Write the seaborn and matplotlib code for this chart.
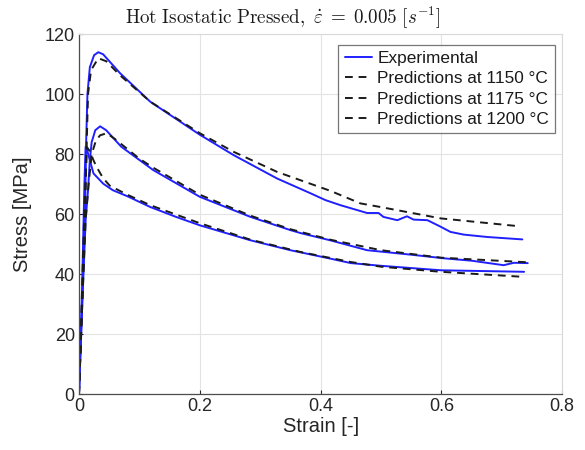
import numpy as np
import pandas as pd
import matplotlib
matplotlib.use("Agg")
import matplotlib.pyplot as plt
import seaborn as sns

# ---- data ----
exp_1150_strain = [0, 0.006, 0.010, 0.012, 0.014, 0.018, 0.025, 0.032, 0.040, 0.068, 0.118, 0.200,
                   0.256, 0.328, 0.383, 0.408, 0.433, 0.477, 0.496, 0.504, 0.527, 0.543, 0.554,
                   0.577, 0.599, 0.615, 0.637, 0.676, 0.734]
exp_1150_stress = [0, 35, 60, 85, 100, 109, 113, 114, 113.3, 107, 97.5, 86.5,
                   79.7, 71.9, 67.0, 64.7, 63.0, 60.4, 60.4, 59.1, 58.0, 59.3, 58.2,
                   58.0, 55.8, 54.1, 53.2, 52.4, 51.6]

exp_1175_strain = [0, 0.006, 0.011, 0.015, 0.018, 0.021, 0.027, 0.035, 0.045, 0.070, 0.123, 0.200,
                   0.284, 0.350, 0.367, 0.416, 0.477, 0.550, 0.604, 0.650, 0.703, 0.720, 0.743]
exp_1175_stress = [0, 33, 58, 68, 78, 84, 88, 89.3, 88, 82.5, 74.7, 65.8,
                   59.1, 54.7, 53.7, 51.3, 48.0, 46.5, 45.3, 44.5, 43.0, 43.8, 43.7]

exp_1200_strain = [0, 0.005, 0.009, 0.011, 0.014, 0.018, 0.024, 0.040, 0.056, 0.080, 0.118, 0.162,
                   0.200, 0.284, 0.350, 0.416, 0.450, 0.500, 0.600, 0.737]
exp_1200_stress = [0, 34, 70, 82.5, 81, 78, 73.6, 70.2, 68, 66, 62.4, 59,
                   56.3, 51.3, 48.0, 45.2, 43.7, 42.8, 41.3, 40.8]

pred_1150_strain = [0, 0.006, 0.010, 0.013, 0.015, 0.020, 0.032, 0.045, 0.068, 0.118, 0.200,
                    0.256, 0.328, 0.416, 0.466, 0.499, 0.599, 0.723]
pred_1150_stress = [0, 35, 60, 85, 100, 108, 112, 111, 106.3, 97.5, 87,
                    80.8, 74.1, 67.8, 63.6, 62.4, 58.6, 56.1]

pred_1175_strain = [0, 0.006, 0.011, 0.016, 0.021, 0.028, 0.035, 0.046, 0.060, 0.100, 0.123, 0.200,
                    0.284, 0.350, 0.416, 0.500, 0.600, 0.740]
pred_1175_stress = [0, 33, 58, 70, 80, 84.5, 86.3, 87, 85, 78.5, 75.5, 66.5,
                    59.5, 55.0, 51.5, 48.0, 45.5, 44.0]

pred_1200_strain = [0, 0.005, 0.009, 0.013, 0.018, 0.024, 0.029, 0.040, 0.051, 0.080, 0.118, 0.200,
                    0.284, 0.367, 0.449, 0.500, 0.599, 0.737]
pred_1200_stress = [0, 34, 62, 82.4, 81, 78, 75.8, 72, 69.5, 66.5, 63, 57,
                    51.5, 47.4, 44.1, 42.5, 40.8, 39.1]

x_ticks = [0, 0.2, 0.4, 0.6, 0.8]
x_tick_labels = ["0", "0.2", "0.4", "0.6", "0.8"]
y_ticks = [0, 20, 40, 60, 80, 100, 120]
x_label = "Strain [-]"
y_label = "Stress [MPa]"
title = r"$\mathrm{Hot\ Isostatic\ Pressed,}\ \dot{\varepsilon}\;=\;0.005\ [s^{-1}]$"

# ---- style ----
sns.set_theme(style="whitegrid")
plt.rcParams["font.family"] = ["Liberation Sans", "DejaVu Sans"]
plt.rcParams["mathtext.fontset"] = "cm"

fig = plt.figure(figsize=(5.85, 4.5), dpi=100)
ax = fig.add_axes([0.135, 0.124, 0.826, 0.800])

blue = "#2020ff"
for i, (s, v) in enumerate([(exp_1150_strain, exp_1150_stress),
                            (exp_1175_strain, exp_1175_stress),
                            (exp_1200_strain, exp_1200_stress)]):
    df = pd.DataFrame({"strain": s, "stress": v})
    sns.lineplot(data=df, x="strain", y="stress", ax=ax, color=blue, lw=1.4,
                 sort=False, estimator=None, label="Experimental" if i == 0 else None,
                 legend=False)

for T, s, v in [(1150, pred_1150_strain, pred_1150_stress),
                (1175, pred_1175_strain, pred_1175_stress),
                (1200, pred_1200_strain, pred_1200_stress)]:
    df = pd.DataFrame({"strain": s, "stress": v})
    sns.lineplot(data=df, x="strain", y="stress", ax=ax, color="#1a1a1a", lw=1.4,
                 sort=False, estimator=None, label=f"Predictions at {T} °C",
                 legend=False)
for ln in ax.lines[3:]:
    ln.set_linestyle((0, (4, 3)))

ax.set_xlim(0, 0.8)
ax.set_ylim(0, 120)
ax.set_xticks(x_ticks)
ax.set_xticklabels(x_tick_labels)
ax.set_yticks(y_ticks)
ax.tick_params(axis="both", direction="in", length=3, width=0.8, colors="#262626",
               labelsize=13, labelcolor="#262626", pad=3, bottom=True, left=True)
ax.grid(True, color="#e3e3e3", lw=0.8)
ax.set_facecolor("white")
for side in ["left", "bottom"]:
    ax.spines[side].set_color("#4d4d4d")
    ax.spines[side].set_linewidth(0.9)
for side in ["top", "right"]:
    ax.spines[side].set_color("#d9d9d9")
    ax.spines[side].set_linewidth(0.8)

ax.set_xlabel(x_label, fontsize=14.5, color="#262626", labelpad=1)
ax.set_ylabel(y_label, fontsize=14.5, color="#262626", labelpad=9)
fig.text(283 / 585, 1 - 17 / 450, title, fontsize=13.7, color="#1a1a1a",
         ha="center", va="center")

leg = ax.legend(loc="upper right", bbox_to_anchor=(555 / 585, 1 - 45 / 450),
                bbox_transform=fig.transFigure, fontsize=12.4, handlelength=1.6,
                handletextpad=0.3, borderpad=0.35, labelspacing=0.3, frameon=True,
                fancybox=False, borderaxespad=0.0)
leg.get_frame().set_edgecolor("#555555")
leg.get_frame().set_linewidth(0.9)
for t in leg.get_texts():
    t.set_color("#1a1a1a")

fig.savefig("out.png", dpi=100)
